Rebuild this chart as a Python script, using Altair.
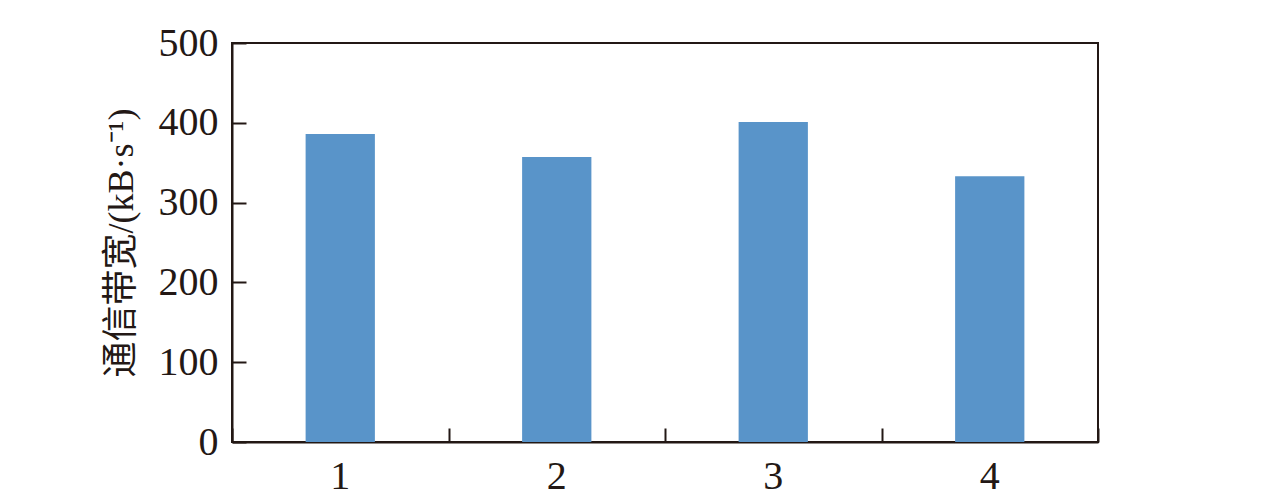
import altair as alt
import pandas as pd

categories = ["1", "2", "3", "4"]
bandwidth = [386, 357, 401, 333]
y_ticks = [0, 100, 200, 300, 400, 500]

df = pd.DataFrame({"cat": categories, "bw": bandwidth})

DARK = "#231815"
FONT = "Liberation Serif"
CJK = "Liberation Serif, Noto Sans CJK SC"

xscale = alt.Scale(paddingInner=0, paddingOuter=0)
yscale = alt.Scale(domain=[0, 500], nice=False)

base = alt.Chart(df)

bars = base.mark_bar(color="#5994C9", width=alt.RelativeBandSize(0.32)).encode(
    x=alt.X("cat:N", scale=xscale, sort=categories,
            axis=alt.Axis(orient="bottom", title=None, ticks=False, tickSize=0,
                          labelAngle=0, labelPadding=14, labelFontSize=40,
                          labelFont=FONT, labelColor=DARK, domainColor=DARK,
                          domainWidth=2, grid=False)),
    y=alt.Y("bw:Q", scale=yscale,
            axis=alt.Axis(orient="left", values=y_ticks, ticks=False, tickSize=0,
                          title="通信带宽/(kB·s⁻¹)", titleFont=CJK,
                          titleFontSize=36, titleFontWeight="normal",
                          titleColor=DARK, titlePadding=18,
                          labelPadding=14, labelFontSize=40, labelFont=FONT,
                          labelColor=DARK, domainColor=DARK, domainWidth=2,
                          grid=False)),
)

ticks_layer = base.mark_bar(opacity=0).encode(
    x=alt.X("cat:N", scale=xscale, sort=categories,
            axis=alt.Axis(orient="bottom", title=None, labels=False, domain=False,
                          ticks=True, tickSize=14, tickWidth=2, tickColor=DARK,
                          tickBand="extent", offset=-14, grid=False)),
    y=alt.Y("bw:Q", scale=yscale,
            axis=alt.Axis(orient="left", title=None, labels=False, domain=False,
                          values=y_ticks, ticks=True, tickSize=14, tickWidth=2,
                          tickColor=DARK, offset=-14, grid=False)),
)

chart = (
    alt.layer(bars, ticks_layer)
    .resolve_axis(x="independent", y="independent")
    .properties(
        width=866,
        height=399,
        autosize=alt.AutoSizeParams(type="none"),
        padding={"left": 224, "top": 35, "right": 20, "bottom": 57},
    )
    .configure_view(stroke=DARK, strokeWidth=2)
)

chart.save("out.html", embed_options={"renderer": "svg", "actions": False})
